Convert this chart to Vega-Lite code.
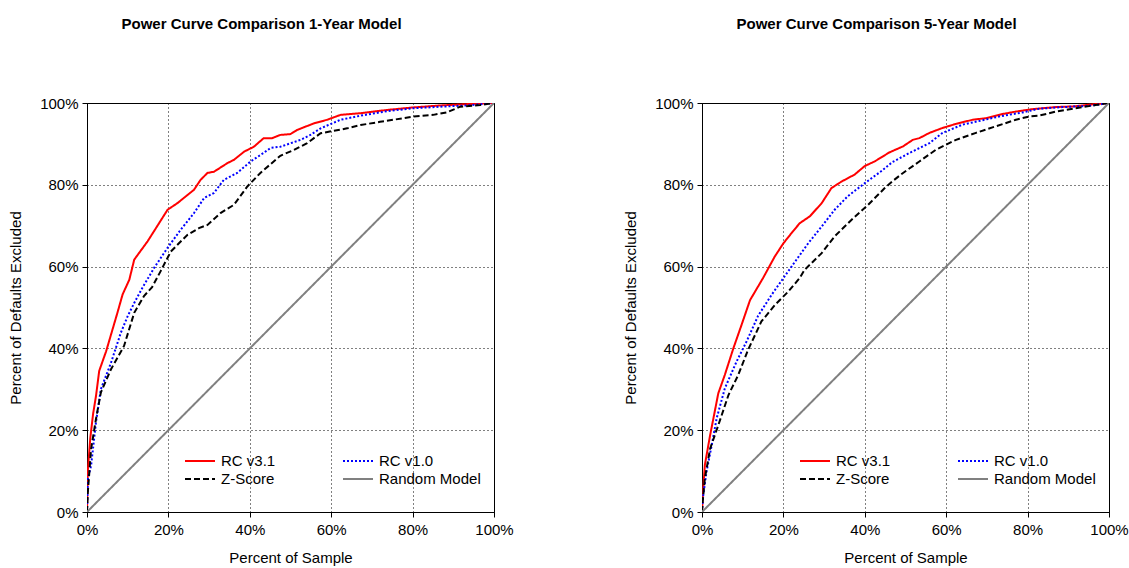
{
  "$schema": "https://vega.github.io/schema/vega-lite/v6.json",
  "padding": {"left": 8, "top": 16, "right": 0, "bottom": 0},
  "spacing": 109,
  "data": {"values": [
    {"panel":"1","series":"RC v3.1","x":0,"y":0},
    {"panel":"1","series":"RC v3.1","x":0.002,"y":0.1},
    {"panel":"1","series":"RC v3.1","x":0.008,"y":0.18},
    {"panel":"1","series":"RC v3.1","x":0.015,"y":0.24},
    {"panel":"1","series":"RC v3.1","x":0.022,"y":0.283},
    {"panel":"1","series":"RC v3.1","x":0.03,"y":0.345},
    {"panel":"1","series":"RC v3.1","x":0.047,"y":0.393},
    {"panel":"1","series":"RC v3.1","x":0.075,"y":0.488},
    {"panel":"1","series":"RC v3.1","x":0.0875,"y":0.532},
    {"panel":"1","series":"RC v3.1","x":0.104,"y":0.568},
    {"panel":"1","series":"RC v3.1","x":0.116,"y":0.617},
    {"panel":"1","series":"RC v3.1","x":0.149,"y":0.662},
    {"panel":"1","series":"RC v3.1","x":0.198,"y":0.739},
    {"panel":"1","series":"RC v3.1","x":0.222,"y":0.755},
    {"panel":"1","series":"RC v3.1","x":0.263,"y":0.788},
    {"panel":"1","series":"RC v3.1","x":0.279,"y":0.812},
    {"panel":"1","series":"RC v3.1","x":0.296,"y":0.829},
    {"panel":"1","series":"RC v3.1","x":0.312,"y":0.832},
    {"panel":"1","series":"RC v3.1","x":0.345,"y":0.853},
    {"panel":"1","series":"RC v3.1","x":0.361,"y":0.861},
    {"panel":"1","series":"RC v3.1","x":0.386,"y":0.881},
    {"panel":"1","series":"RC v3.1","x":0.41,"y":0.893},
    {"panel":"1","series":"RC v3.1","x":0.434,"y":0.914},
    {"panel":"1","series":"RC v3.1","x":0.455,"y":0.914},
    {"panel":"1","series":"RC v3.1","x":0.475,"y":0.922},
    {"panel":"1","series":"RC v3.1","x":0.5,"y":0.924},
    {"panel":"1","series":"RC v3.1","x":0.516,"y":0.934},
    {"panel":"1","series":"RC v3.1","x":0.557,"y":0.95},
    {"panel":"1","series":"RC v3.1","x":0.59,"y":0.959},
    {"panel":"1","series":"RC v3.1","x":0.623,"y":0.971},
    {"panel":"1","series":"RC v3.1","x":0.672,"y":0.975},
    {"panel":"1","series":"RC v3.1","x":0.737,"y":0.983},
    {"panel":"1","series":"RC v3.1","x":0.8,"y":0.989},
    {"panel":"1","series":"RC v3.1","x":0.868,"y":0.994},
    {"panel":"1","series":"RC v3.1","x":0.949,"y":0.998},
    {"panel":"1","series":"RC v3.1","x":1,"y":1},
    {"panel":"1","series":"RC v1.0","x":0,"y":0},
    {"panel":"1","series":"RC v1.0","x":0.002,"y":0.08},
    {"panel":"1","series":"RC v1.0","x":0.01,"y":0.113},
    {"panel":"1","series":"RC v1.0","x":0.022,"y":0.219},
    {"panel":"1","series":"RC v1.0","x":0.034,"y":0.3},
    {"panel":"1","series":"RC v1.0","x":0.059,"y":0.365},
    {"panel":"1","series":"RC v1.0","x":0.083,"y":0.438},
    {"panel":"1","series":"RC v1.0","x":0.1,"y":0.479},
    {"panel":"1","series":"RC v1.0","x":0.116,"y":0.511},
    {"panel":"1","series":"RC v1.0","x":0.136,"y":0.548},
    {"panel":"1","series":"RC v1.0","x":0.165,"y":0.597},
    {"panel":"1","series":"RC v1.0","x":0.198,"y":0.646},
    {"panel":"1","series":"RC v1.0","x":0.23,"y":0.69},
    {"panel":"1","series":"RC v1.0","x":0.263,"y":0.731},
    {"panel":"1","series":"RC v1.0","x":0.288,"y":0.768},
    {"panel":"1","series":"RC v1.0","x":0.312,"y":0.78},
    {"panel":"1","series":"RC v1.0","x":0.336,"y":0.812},
    {"panel":"1","series":"RC v1.0","x":0.369,"y":0.829},
    {"panel":"1","series":"RC v1.0","x":0.402,"y":0.857},
    {"panel":"1","series":"RC v1.0","x":0.434,"y":0.878},
    {"panel":"1","series":"RC v1.0","x":0.451,"y":0.89},
    {"panel":"1","series":"RC v1.0","x":0.475,"y":0.893},
    {"panel":"1","series":"RC v1.0","x":0.525,"y":0.91},
    {"panel":"1","series":"RC v1.0","x":0.549,"y":0.922},
    {"panel":"1","series":"RC v1.0","x":0.574,"y":0.938},
    {"panel":"1","series":"RC v1.0","x":0.623,"y":0.959},
    {"panel":"1","series":"RC v1.0","x":0.672,"y":0.969},
    {"panel":"1","series":"RC v1.0","x":0.737,"y":0.98},
    {"panel":"1","series":"RC v1.0","x":0.8,"y":0.987},
    {"panel":"1","series":"RC v1.0","x":0.868,"y":0.991},
    {"panel":"1","series":"RC v1.0","x":0.933,"y":0.994},
    {"panel":"1","series":"RC v1.0","x":1,"y":1},
    {"panel":"1","series":"Z-Score","x":0,"y":0},
    {"panel":"1","series":"Z-Score","x":0.002,"y":0.048},
    {"panel":"1","series":"Z-Score","x":0.01,"y":0.154},
    {"panel":"1","series":"Z-Score","x":0.022,"y":0.227},
    {"panel":"1","series":"Z-Score","x":0.034,"y":0.292},
    {"panel":"1","series":"Z-Score","x":0.059,"y":0.349},
    {"panel":"1","series":"Z-Score","x":0.091,"y":0.406},
    {"panel":"1","series":"Z-Score","x":0.116,"y":0.487},
    {"panel":"1","series":"Z-Score","x":0.14,"y":0.528},
    {"panel":"1","series":"Z-Score","x":0.16,"y":0.55},
    {"panel":"1","series":"Z-Score","x":0.181,"y":0.589},
    {"panel":"1","series":"Z-Score","x":0.206,"y":0.637},
    {"panel":"1","series":"Z-Score","x":0.247,"y":0.678},
    {"panel":"1","series":"Z-Score","x":0.275,"y":0.694},
    {"panel":"1","series":"Z-Score","x":0.296,"y":0.702},
    {"panel":"1","series":"Z-Score","x":0.328,"y":0.731},
    {"panel":"1","series":"Z-Score","x":0.361,"y":0.751},
    {"panel":"1","series":"Z-Score","x":0.394,"y":0.796},
    {"panel":"1","series":"Z-Score","x":0.426,"y":0.829},
    {"panel":"1","series":"Z-Score","x":0.475,"y":0.871},
    {"panel":"1","series":"Z-Score","x":0.508,"y":0.885},
    {"panel":"1","series":"Z-Score","x":0.541,"y":0.902},
    {"panel":"1","series":"Z-Score","x":0.574,"y":0.926},
    {"panel":"1","series":"Z-Score","x":0.606,"y":0.932},
    {"panel":"1","series":"Z-Score","x":0.639,"y":0.938},
    {"panel":"1","series":"Z-Score","x":0.672,"y":0.946},
    {"panel":"1","series":"Z-Score","x":0.72,"y":0.954},
    {"panel":"1","series":"Z-Score","x":0.753,"y":0.959},
    {"panel":"1","series":"Z-Score","x":0.802,"y":0.967},
    {"panel":"1","series":"Z-Score","x":0.851,"y":0.971},
    {"panel":"1","series":"Z-Score","x":0.884,"y":0.977},
    {"panel":"1","series":"Z-Score","x":0.917,"y":0.991},
    {"panel":"1","series":"Z-Score","x":0.966,"y":0.995},
    {"panel":"1","series":"Z-Score","x":1,"y":1},
    {"panel":"1","series":"Random Model","x":0,"y":0},
    {"panel":"1","series":"Random Model","x":1,"y":1},
    {"panel":"2","series":"RC v3.1","x":0,"y":0},
    {"panel":"2","series":"RC v3.1","x":0.002,"y":0.041},
    {"panel":"2","series":"RC v3.1","x":0.007,"y":0.115},
    {"panel":"2","series":"RC v3.1","x":0.02,"y":0.188},
    {"panel":"2","series":"RC v3.1","x":0.04,"y":0.29},
    {"panel":"2","series":"RC v3.1","x":0.056,"y":0.335},
    {"panel":"2","series":"RC v3.1","x":0.077,"y":0.4},
    {"panel":"2","series":"RC v3.1","x":0.097,"y":0.457},
    {"panel":"2","series":"RC v3.1","x":0.118,"y":0.518},
    {"panel":"2","series":"RC v3.1","x":0.15,"y":0.572},
    {"panel":"2","series":"RC v3.1","x":0.179,"y":0.625},
    {"panel":"2","series":"RC v3.1","x":0.2,"y":0.657},
    {"panel":"2","series":"RC v3.1","x":0.22,"y":0.682},
    {"panel":"2","series":"RC v3.1","x":0.24,"y":0.706},
    {"panel":"2","series":"RC v3.1","x":0.265,"y":0.723},
    {"panel":"2","series":"RC v3.1","x":0.294,"y":0.755},
    {"panel":"2","series":"RC v3.1","x":0.318,"y":0.792},
    {"panel":"2","series":"RC v3.1","x":0.343,"y":0.808},
    {"panel":"2","series":"RC v3.1","x":0.375,"y":0.825},
    {"panel":"2","series":"RC v3.1","x":0.4,"y":0.846},
    {"panel":"2","series":"RC v3.1","x":0.424,"y":0.857},
    {"panel":"2","series":"RC v3.1","x":0.46,"y":0.879},
    {"panel":"2","series":"RC v3.1","x":0.494,"y":0.894},
    {"panel":"2","series":"RC v3.1","x":0.518,"y":0.91},
    {"panel":"2","series":"RC v3.1","x":0.534,"y":0.914},
    {"panel":"2","series":"RC v3.1","x":0.559,"y":0.927},
    {"panel":"2","series":"RC v3.1","x":0.591,"y":0.939},
    {"panel":"2","series":"RC v3.1","x":0.624,"y":0.949},
    {"panel":"2","series":"RC v3.1","x":0.665,"y":0.959},
    {"panel":"2","series":"RC v3.1","x":0.698,"y":0.963},
    {"panel":"2","series":"RC v3.1","x":0.738,"y":0.973},
    {"panel":"2","series":"RC v3.1","x":0.771,"y":0.979},
    {"panel":"2","series":"RC v3.1","x":0.812,"y":0.985},
    {"panel":"2","series":"RC v3.1","x":0.869,"y":0.99},
    {"panel":"2","series":"RC v3.1","x":0.918,"y":0.992},
    {"panel":"2","series":"RC v3.1","x":0.951,"y":0.996},
    {"panel":"2","series":"RC v3.1","x":1,"y":1},
    {"panel":"2","series":"RC v1.0","x":0,"y":0},
    {"panel":"2","series":"RC v1.0","x":0.002,"y":0.033},
    {"panel":"2","series":"RC v1.0","x":0.011,"y":0.098},
    {"panel":"2","series":"RC v1.0","x":0.024,"y":0.164},
    {"panel":"2","series":"RC v1.0","x":0.036,"y":0.229},
    {"panel":"2","series":"RC v1.0","x":0.056,"y":0.302},
    {"panel":"2","series":"RC v1.0","x":0.085,"y":0.368},
    {"panel":"2","series":"RC v1.0","x":0.11,"y":0.418},
    {"panel":"2","series":"RC v1.0","x":0.138,"y":0.48},
    {"panel":"2","series":"RC v1.0","x":0.171,"y":0.531},
    {"panel":"2","series":"RC v1.0","x":0.2,"y":0.572},
    {"panel":"2","series":"RC v1.0","x":0.22,"y":0.6},
    {"panel":"2","series":"RC v1.0","x":0.261,"y":0.657},
    {"panel":"2","series":"RC v1.0","x":0.294,"y":0.698},
    {"panel":"2","series":"RC v1.0","x":0.326,"y":0.739},
    {"panel":"2","series":"RC v1.0","x":0.358,"y":0.772},
    {"panel":"2","series":"RC v1.0","x":0.4,"y":0.804},
    {"panel":"2","series":"RC v1.0","x":0.44,"y":0.833},
    {"panel":"2","series":"RC v1.0","x":0.467,"y":0.855},
    {"panel":"2","series":"RC v1.0","x":0.51,"y":0.878},
    {"panel":"2","series":"RC v1.0","x":0.559,"y":0.902},
    {"panel":"2","series":"RC v1.0","x":0.591,"y":0.927},
    {"panel":"2","series":"RC v1.0","x":0.64,"y":0.947},
    {"panel":"2","series":"RC v1.0","x":0.69,"y":0.958},
    {"panel":"2","series":"RC v1.0","x":0.73,"y":0.967},
    {"panel":"2","series":"RC v1.0","x":0.788,"y":0.977},
    {"panel":"2","series":"RC v1.0","x":0.828,"y":0.986},
    {"panel":"2","series":"RC v1.0","x":0.886,"y":0.99},
    {"panel":"2","series":"RC v1.0","x":0.951,"y":0.993},
    {"panel":"2","series":"RC v1.0","x":1,"y":1},
    {"panel":"2","series":"Z-Score","x":0,"y":0},
    {"panel":"2","series":"Z-Score","x":0.002,"y":0.029},
    {"panel":"2","series":"Z-Score","x":0.007,"y":0.082},
    {"panel":"2","series":"Z-Score","x":0.02,"y":0.155},
    {"panel":"2","series":"Z-Score","x":0.04,"y":0.212},
    {"panel":"2","series":"Z-Score","x":0.065,"y":0.286},
    {"panel":"2","series":"Z-Score","x":0.089,"y":0.335},
    {"panel":"2","series":"Z-Score","x":0.113,"y":0.396},
    {"panel":"2","series":"Z-Score","x":0.146,"y":0.466},
    {"panel":"2","series":"Z-Score","x":0.179,"y":0.506},
    {"panel":"2","series":"Z-Score","x":0.212,"y":0.539},
    {"panel":"2","series":"Z-Score","x":0.24,"y":0.572},
    {"panel":"2","series":"Z-Score","x":0.252,"y":0.592},
    {"panel":"2","series":"Z-Score","x":0.294,"y":0.633},
    {"panel":"2","series":"Z-Score","x":0.326,"y":0.674},
    {"panel":"2","series":"Z-Score","x":0.367,"y":0.714},
    {"panel":"2","series":"Z-Score","x":0.408,"y":0.751},
    {"panel":"2","series":"Z-Score","x":0.449,"y":0.792},
    {"panel":"2","series":"Z-Score","x":0.467,"y":0.808},
    {"panel":"2","series":"Z-Score","x":0.494,"y":0.829},
    {"panel":"2","series":"Z-Score","x":0.534,"y":0.857},
    {"panel":"2","series":"Z-Score","x":0.575,"y":0.886},
    {"panel":"2","series":"Z-Score","x":0.624,"y":0.91},
    {"panel":"2","series":"Z-Score","x":0.673,"y":0.927},
    {"panel":"2","series":"Z-Score","x":0.722,"y":0.943},
    {"panel":"2","series":"Z-Score","x":0.771,"y":0.959},
    {"panel":"2","series":"Z-Score","x":0.804,"y":0.967},
    {"panel":"2","series":"Z-Score","x":0.828,"y":0.969},
    {"panel":"2","series":"Z-Score","x":0.869,"y":0.979},
    {"panel":"2","series":"Z-Score","x":0.918,"y":0.987},
    {"panel":"2","series":"Z-Score","x":0.967,"y":0.995},
    {"panel":"2","series":"Z-Score","x":1,"y":1},
    {"panel":"2","series":"Random Model","x":0,"y":0},
    {"panel":"2","series":"Random Model","x":1,"y":1}
  ]},
  "resolve": {
    "scale": {"color": "independent", "strokeDash": "independent", "strokeWidth": "independent"},
    "legend": {"color": "independent", "strokeDash": "independent"}
  },
  "hconcat": [
    {
      "width": 407, "height": 409,
      "title": {"text": "Power Curve Comparison 1-Year Model"},
      "transform": [{"filter": "datum.panel == '1'"}],
      "mark": {"type": "line", "clip": true},
      "encoding": {
        "x": {"field": "x", "type": "quantitative", "scale": {"domain": [0, 1], "nice": false}, "axis": {"title": "Percent of Sample", "format": ".0%", "values": [0, 0.2, 0.4, 0.6, 0.8, 1], "labelFlush": false, "labelPadding": 5, "titlePadding": 13}},
        "y": {"field": "y", "type": "quantitative", "scale": {"domain": [0, 1], "nice": false}, "axis": {"title": "Percent of Defaults Excluded", "format": ".0%", "values": [0, 0.2, 0.4, 0.6, 0.8, 1], "labelFlush": false, "labelPadding": 4, "titlePadding": 16}},
        "color": {"field": "series", "type": "nominal", "scale": {"domain": ["RC v3.1", "RC v1.0", "Z-Score", "Random Model"], "range": ["#ff0000", "#0000ff", "#000000", "#808080"]},
          "legend": {"orient": "none", "legendX": 97, "legendY": 349, "columns": 2, "direction": "horizontal", "columnPadding": 66, "rowPadding": 0, "clipHeight": 18, "title": null, "symbolType": "stroke", "symbolSize": 900, "symbolStrokeWidth": 1.5, "labelFontSize": 15, "labelFont": "Liberation Sans", "labelColor": "#000", "labelOffset": 5}},
        "strokeDash": {"field": "series", "type": "nominal", "scale": {"domain": ["RC v3.1", "RC v1.0", "Z-Score", "Random Model"], "range": [[1, 0], [2, 2], [6, 3], [1, 0]]},
          "legend": {"orient": "none", "legendX": 97, "legendY": 349, "columns": 2, "direction": "horizontal", "columnPadding": 66, "rowPadding": 0, "clipHeight": 18, "title": null, "symbolType": "stroke", "symbolSize": 900, "symbolStrokeWidth": 1.5, "labelFontSize": 15, "labelFont": "Liberation Sans", "labelColor": "#000", "labelOffset": 5}},
        "strokeWidth": {"field": "series", "type": "nominal", "scale": {"domain": ["RC v3.1", "RC v1.0", "Z-Score", "Random Model"], "range": [2, 2, 2, 1.5]}, "legend": null}
      }
    },
    {
      "width": 407, "height": 409,
      "title": {"text": "Power Curve Comparison 5-Year Model"},
      "transform": [{"filter": "datum.panel == '2'"}],
      "mark": {"type": "line", "clip": true},
      "encoding": {
        "x": {"field": "x", "type": "quantitative", "scale": {"domain": [0, 1], "nice": false}, "axis": {"title": "Percent of Sample", "format": ".0%", "values": [0, 0.2, 0.4, 0.6, 0.8, 1], "labelFlush": false, "labelPadding": 5, "titlePadding": 13}},
        "y": {"field": "y", "type": "quantitative", "scale": {"domain": [0, 1], "nice": false}, "axis": {"title": "Percent of Defaults Excluded", "format": ".0%", "values": [0, 0.2, 0.4, 0.6, 0.8, 1], "labelFlush": false, "labelPadding": 4, "titlePadding": 16}},
        "color": {"field": "series", "type": "nominal", "scale": {"domain": ["RC v3.1", "RC v1.0", "Z-Score", "Random Model"], "range": ["#ff0000", "#0000ff", "#000000", "#808080"]},
          "legend": {"orient": "none", "legendX": 97, "legendY": 349, "columns": 2, "direction": "horizontal", "columnPadding": 66, "rowPadding": 0, "clipHeight": 18, "title": null, "symbolType": "stroke", "symbolSize": 900, "symbolStrokeWidth": 1.5, "labelFontSize": 15, "labelFont": "Liberation Sans", "labelColor": "#000", "labelOffset": 5}},
        "strokeDash": {"field": "series", "type": "nominal", "scale": {"domain": ["RC v3.1", "RC v1.0", "Z-Score", "Random Model"], "range": [[1, 0], [2, 2], [6, 3], [1, 0]]},
          "legend": {"orient": "none", "legendX": 97, "legendY": 349, "columns": 2, "direction": "horizontal", "columnPadding": 66, "rowPadding": 0, "clipHeight": 18, "title": null, "symbolType": "stroke", "symbolSize": 900, "symbolStrokeWidth": 1.5, "labelFontSize": 15, "labelFont": "Liberation Sans", "labelColor": "#000", "labelOffset": 5}},
        "strokeWidth": {"field": "series", "type": "nominal", "scale": {"domain": ["RC v3.1", "RC v1.0", "Z-Score", "Random Model"], "range": [2, 2, 2, 1.5]}, "legend": null}
      }
    }
  ],
  "config": {
    "background": "#ffffff",
    "view": {"stroke": "#000000", "strokeWidth": 1},
    "title": {"font": "Liberation Sans", "fontSize": 15, "fontWeight": "bold", "color": "#000", "offset": 64, "dx": -29},
    "axis": {"domainColor": "#000", "tickColor": "#000", "labelColor": "#000", "titleColor": "#000", "labelFont": "Liberation Sans", "titleFont": "Liberation Sans", "labelFontSize": 15, "titleFontSize": 15, "titleFontWeight": "normal", "gridColor": "#000", "gridDash": [1, 3], "gridOpacity": 1, "tickSize": 5}
  }
}
